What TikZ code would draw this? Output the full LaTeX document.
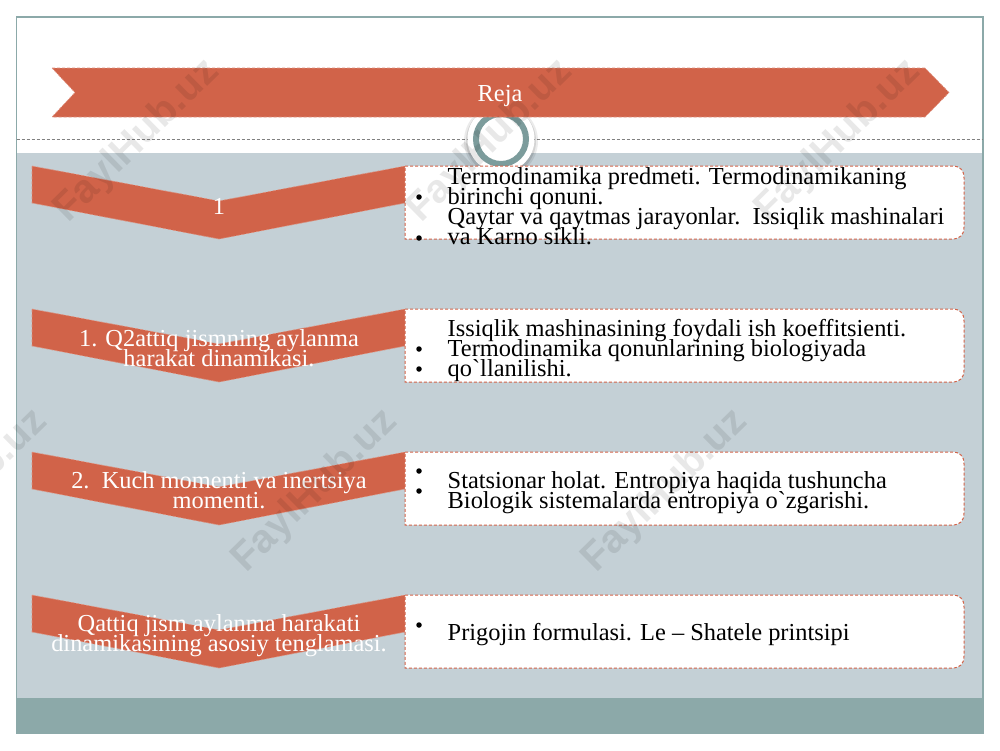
\documentclass[tikz,border=0pt]{standalone}
\usepackage{fontspec}
\setmainfont{Liberation Serif}
\newfontfamily\markfont{Liberation Sans}
\normallineskiplimit=-50pt
\lineskiplimit=-50pt
\definecolor{ribbonred}{HTML}{D16349}
\definecolor{panelblue}{HTML}{C4D0D6}
\definecolor{footteal}{HTML}{8CA9A9}
\definecolor{ringteal}{HTML}{7C9C9C}
\tikzset{
	x=1pt,
	y=-1pt,
	ribbon/.style={
		fill=ribbonred,
		draw=ribbonred!70!white,
		densely dashed,
		line width=0.6pt,
	},
	itembox/.style={
		fill=white,
		draw=ribbonred,
		densely dashed,
		line width=1pt,
	},
	title/.style={
		text=white,
		font=\fontsize{24.4}{20}\selectfont,
		align=center,
		inner sep=0pt,
	},
	item/.style={
		text=black,
		font=\fontsize{24.4}{20}\selectfont,
		anchor=west,
		align=left,
		inner sep=0pt,
	},
	bullet/.style={
		circle,
		fill=black,
		inner sep=0pt,
		minimum size=5.5pt,
	},
	fayl/.style={
		text=black,
		opacity=0.09,
		font=\markfont\bfseries\fontsize{40}{40}\selectfont,
		rotate=44.5,
		inner sep=0pt,
	},
}

\begin{document}
\lineskiplimit=-50pt
\begin{tikzpicture}
	\clip (0,0) rectangle (1000,750);
	\useasboundingbox (0,0) rectangle (1000,750);

	\fill[white] (0,0) rectangle (1000,750);
	\fill[panelblue] (16.5,153) rectangle (983,698);
	\fill[footteal] (16.5,698) rectangle (983,733);
	\draw[footteal, line width=1.2pt] (16.5,17) rectangle (983,733);
	\draw[gray, densely dashed, line width=0.4pt] (16.5,139) -- (983,139);

	\fill[black, opacity=0.08] (501,141) circle (37);
	\fill[black, opacity=0.10] (501,141) circle (35);
	\fill[white] (501,139) circle (33.5);
	\draw[ringteal, line width=6pt] (501,139) circle (25);

	% banner
	\draw[ribbon] (52,68) -- (925,68) -- (949,92.5) -- (925,117) -- (52,117) -- (75,92.5) -- cycle;
	\node[title] (reja) at (500,96) {Reja};

	% left chevrons
	\draw[ribbon] (32,166) -- (219,201) -- (405,166) -- (405,203) -- (219,239) -- (32,203) -- cycle;
	\draw[ribbon] (32,309) -- (219,344) -- (405,309) -- (405,346) -- (219,382) -- (32,346) -- cycle;
	\draw[ribbon] (32,452) -- (219,487) -- (405,452) -- (405,489) -- (219,525) -- (32,489) -- cycle;
	\draw[ribbon] (32,595) -- (219,630) -- (405,595) -- (405,632) -- (219,668) -- (32,632) -- cycle;

	% right boxes
	\draw[itembox] (405,166) -- (952,166) .. controls (960,166) and (964,170) .. (964,178) -- (964,227) .. controls (964,235) and (960,239) .. (952,239) -- (405,239) -- cycle;
	\draw[itembox] (405,309) -- (952,309) .. controls (960,309) and (964,313) .. (964,321) -- (964,370) .. controls (964,378) and (960,382) .. (952,382) -- (405,382) -- cycle;
	\draw[itembox] (405,452) -- (952,452) .. controls (960,452) and (964,456) .. (964,464) -- (964,513) .. controls (964,521) and (960,525) .. (952,525) -- (405,525) -- cycle;
	\draw[itembox] (405,595) -- (952,595) .. controls (960,595) and (964,599) .. (964,607) -- (964,656) .. controls (964,664) and (960,668) .. (952,668) -- (405,668) -- cycle;

	\node[title] (one)   at (219,206) {1};
	\node[title] (two)   at (219,348.5) {1. Q2attiq jismning aylanma\\harakat dinamikasi.};
	\node[title] (three) at (219,490.5) {2.\ \ Kuch momenti va inertsiya\\momenti.};
	\node[title] (four)  at (219,635.5) {Qattiq jism aylanma harakati\\dinamikasining asosiy tenglamasi.};

	\node[item] (predmet) at (447.5,206.5) {Termodinamika predmeti. Termodinamikaning\\birinchi qonuni.\\Qaytar va qaytmas jarayonlar.\ \ Issiqlik mashinalari\\va Karno sikli.};
	\node[item] (foyda)   at (447.5,350) {Issiqlik mashinasining foydali ish koeffitsienti.\\Termodinamika qonunlarining biologiyada\\qo\textasciigrave llanilishi.};
	\node[item] (holat)   at (447.5,493) {Statsionar holat. Entropiya haqida tushuncha\\Biologik sistemalarda entropiya o\textasciigrave zgarishi.};
	\node[item] (prigo)   at (447.5,635) {Prigojin formulasi. Le -- Shatele printsipi};

	\node[bullet] (b1) at (419,197) {};
	\node[bullet] (b2) at (419,238) {};
	\node[bullet] (b3) at (419,349) {};
	\node[bullet] (b4) at (419,369) {};
	\node[bullet] (b5) at (419,471) {};
	\node[bullet] (b6) at (419,491) {};
	\node[bullet] (b7) at (419,625) {};

	\node[fayl] (mark1) at (137,141) {FaylHub.uz};
	\node[fayl] (mark2) at (490,141) {FaylHub.uz};
	\node[fayl] (mark3) at (838,141) {FaylHub.uz};
	\node[fayl] (mark4) at (-35,491) {FaylHub.uz};
	\node[fayl] (mark5) at (315,491) {FaylHub.uz};
	\node[fayl] (mark6) at (665,491) {FaylHub.uz};
\end{tikzpicture}
\end{document}
